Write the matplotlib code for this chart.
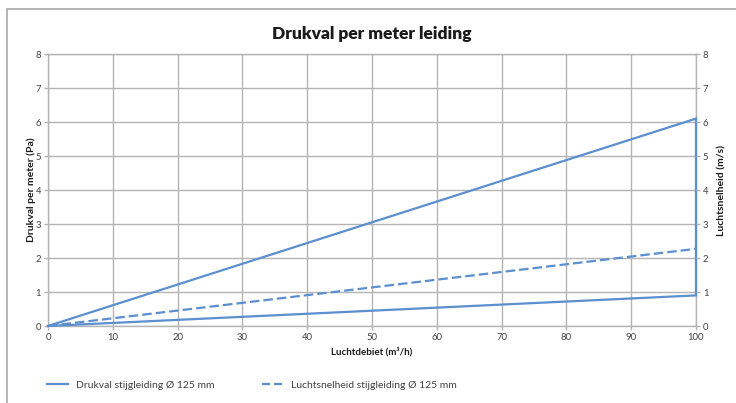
import matplotlib
matplotlib.use("Agg")
import matplotlib.pyplot as plt
from matplotlib.patches import Rectangle
from matplotlib.lines import Line2D

plt.rcParams['font.family'] = ['Lato', 'DejaVu Sans']

# Data
drukval_x = [0, 100, 100, 0]
drukval_y = [0, 6.1, 0.9, 0]
snelheid_x = [0, 100]
snelheid_y = [0, 2.27]
x_ticks = [0, 10, 20, 30, 40, 50, 60, 70, 80, 90, 100]
y_ticks = [0, 1, 2, 3, 4, 5, 6, 7, 8]

title = "Drukval per meter leiding"
xlabel = "Luchtdebiet (m³/h)"
ylabel_left = "Drukval per meter (Pa)"
ylabel_right = "Luchtsnelheid (m/s)"
legend_labels = ["Drukval stijgleiding Ø 125 mm", "Luchtsnelheid stijgleiding Ø 125 mm"]

blue = "#5b8fcf"
grid_c = "#b4b4b4"
text_c = "#404040"

W, H = 736, 403
fig = plt.figure(figsize=(W / 100, H / 100), dpi=100)

# outer chart frame
fig.patches.append(Rectangle((7 / W, -0.1), 1.2, (H - 9) / H + 0.1, transform=fig.transFigure,
                             fill=False, edgecolor="#a8a8a8", linewidth=1.2))

ax = fig.add_axes([48 / W, (H - 326) / H, (696 - 48) / W, (326 - 54) / H])
ax.set_xlim(0, 100)
ax.set_ylim(0, 8)
ax.set_xticks(x_ticks)
ax.set_yticks(y_ticks)
ax.grid(True, color=grid_c, linewidth=1.0)
ax.set_axisbelow(True)
for s in ax.spines.values():
    s.set_color(grid_c)
    s.set_linewidth(1.0)
ax.tick_params(axis='both', colors=grid_c, labelcolor=text_c, labelsize=6.8, length=3, width=1, pad=2)

ax2 = ax.twinx()
ax2.set_ylim(0, 8)
ax2.set_yticks(y_ticks)
ax2.tick_params(axis='y', colors=grid_c, labelcolor=text_c, labelsize=6.8, length=3, width=1, pad=2)
for s in ax2.spines.values():
    s.set_visible(False)

dash = (0, (4.3, 1.8))
ax.plot(drukval_x, drukval_y, color=blue, linewidth=1.6, solid_joinstyle='miter', clip_on=False, zorder=3)
ax2.plot(snelheid_x, snelheid_y, color=blue, linewidth=1.6, linestyle=dash, clip_on=False, zorder=3)

fig.text(372 / W, 1 - 34 / H, title, ha='center', va='center', fontsize=12.5, fontweight='heavy', color='#1a1a1a')
fig.text(372 / W, 1 - 352 / H, xlabel, ha='center', va='center', fontsize=7, fontweight='bold', color='#1a1a1a')
fig.text(31 / W, 1 - 190 / H, ylabel_left, ha='center', va='center', rotation=90, fontsize=7.5, fontweight='bold', color='#1a1a1a')
fig.text(722 / W, 1 - 190 / H, ylabel_right, ha='center', va='center', rotation=90, fontsize=7.5, fontweight='bold', color='#1a1a1a')

handles = [Line2D([], [], color=blue, linewidth=1.6),
           Line2D([], [], color=blue, linewidth=1.6, linestyle=(0, (3.6, 1.8)))]
fig.legend(handles, legend_labels, loc='center left', bbox_to_anchor=(47 / W, 1 - 385 / H),
           ncol=2, frameon=False, fontsize=7.5, handlelength=2.0, columnspacing=4.6,
           handletextpad=0.75, labelcolor=text_c, borderpad=0.0, borderaxespad=0.0)

fig.savefig("out.png", dpi=100)
